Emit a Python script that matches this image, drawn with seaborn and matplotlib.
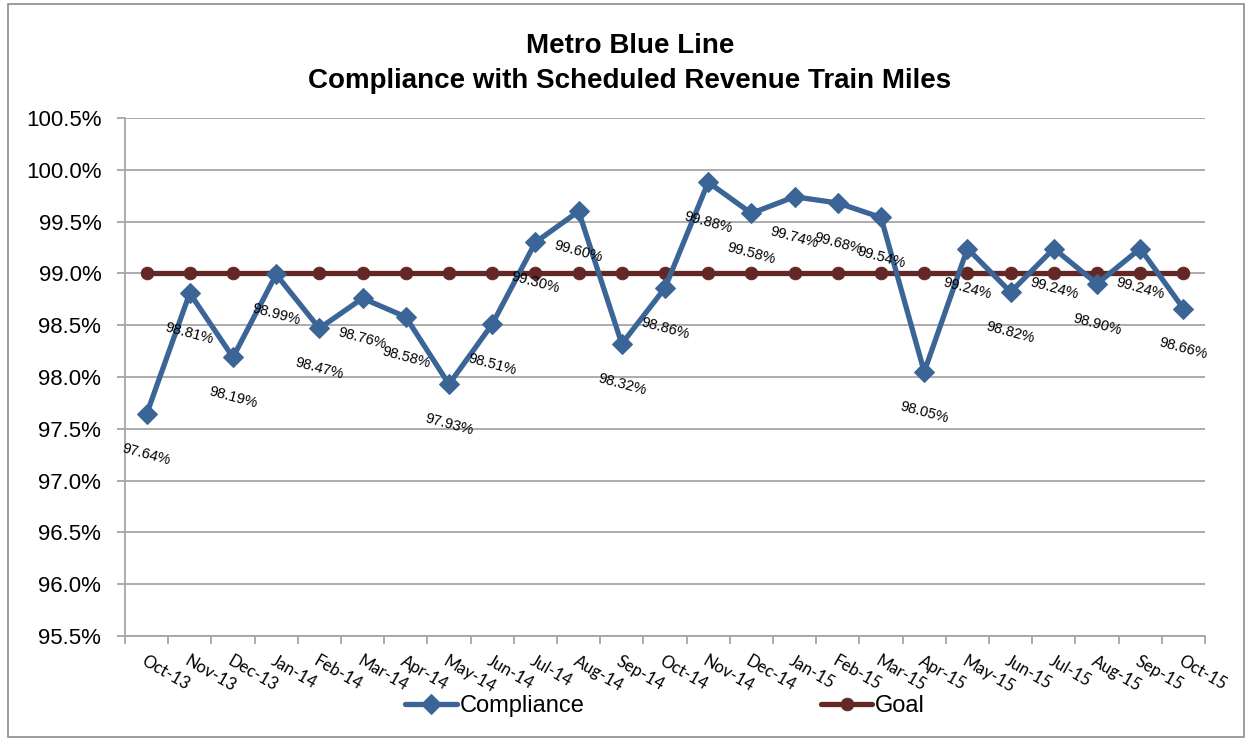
import pandas as pd
import matplotlib
matplotlib.use("Agg")
import matplotlib.pyplot as plt
import seaborn as sns
from matplotlib.patches import Rectangle
from matplotlib.ticker import FuncFormatter, FixedLocator

# Data
months = ["Oct-13", "Nov-13", "Dec-13", "Jan-14", "Feb-14", "Mar-14", "Apr-14",
          "May-14", "Jun-14", "Jul-14", "Aug-14", "Sep-14", "Oct-14", "Nov-14",
          "Dec-14", "Jan-15", "Feb-15", "Mar-15", "Apr-15", "May-15", "Jun-15",
          "Jul-15", "Aug-15", "Sep-15", "Oct-15"]
compliance = [97.64, 98.81, 98.19, 98.99, 98.47, 98.76, 98.58, 97.93, 98.51,
              99.30, 99.60, 98.32, 98.86, 99.88, 99.58, 99.74, 99.68, 99.54,
              98.05, 99.24, 98.82, 99.24, 98.90, 99.24, 98.66]
goal = [99.0] * len(months)

df = pd.DataFrame({"Month": months, "Compliance": compliance, "Goal": goal})

sns.set_theme(style="white")
plt.rcParams["font.family"] = ["Liberation Sans", "DejaVu Sans"]
plt.rcParams["text.color"] = "black"
plt.rcParams["xtick.color"] = "black"
plt.rcParams["ytick.color"] = "black"

blue = "#3B6596"
red = "#632825"
grid = "#A6A6A6"

fig = plt.figure(figsize=(12.52, 7.4), dpi=100)
ax = fig.add_axes([0.0998, 0.1405, 0.8627, 0.70])

sns.lineplot(data=df, x="Month", y="Goal", ax=ax, color=red, lw=3.8,
             marker="o", markersize=9, markeredgecolor=red, label="Goal",
             sort=False, zorder=3)
sns.lineplot(data=df, x="Month", y="Compliance", ax=ax, color=blue, lw=3.8,
             marker="D", markersize=10, markeredgecolor=blue,
             label="Compliance", sort=False, zorder=4)

# data labels
for i, v in enumerate(compliance):
    ax.annotate(f"{v:.2f}%", (i, v), xytext=(0, -29), textcoords="offset points",
                ha="center", va="center", rotation=-15, fontsize=10.5,
                color="black", zorder=5)

ax.set_xlim(-0.5, len(months) - 0.5)
ax.set_ylim(95.5, 100.5)
ax.yaxis.set_major_locator(FixedLocator([95.5 + 0.5 * k for k in range(11)]))
ax.yaxis.set_major_formatter(FuncFormatter(lambda y, _: f"{y:.1f}%"))
ax.grid(axis="y", color=grid, lw=1.3)
ax.set_axisbelow(True)

ax.set_xticks(range(len(months)))
ax.set_xticklabels(months, rotation=-30, ha="left", va="top",
                   rotation_mode="anchor", fontsize=12, family=["Lato", "Liberation Sans"])
ax.set_xticks([k - 0.5 for k in range(len(months) + 1)], minor=True)
ax.tick_params(axis="x", which="major", length=0, pad=12)
ax.tick_params(axis="x", which="minor", length=6, color=grid, width=1.3,
               direction="out", bottom=True)
ax.tick_params(axis="y", labelsize=16, length=6, color=grid, width=1.3,
               direction="out", left=True, pad=11)
ax.set_xlabel("")
ax.set_ylabel("")

for s in ["top", "right"]:
    ax.spines[s].set_visible(False)
for s in ["left", "bottom"]:
    ax.spines[s].set_color(grid)
    ax.spines[s].set_linewidth(1.3)

handles, labels = ax.get_legend_handles_labels()
order = [labels.index("Compliance"), labels.index("Goal")]
ax.legend([handles[k] for k in order], [labels[k] for k in order],
          loc="center", bbox_to_anchor=(0.5, -0.135), ncol=2, frameon=False,
          prop={"size": 17}, columnspacing=10, handlelength=2.2,
          handletextpad=0.1)

fig.text(0.503, 0.914, "Metro Blue Line\nCompliance with Scheduled Revenue Train Miles",
         ha="center", va="center", fontsize=20, fontweight="bold",
         linespacing=1.45)

fig.patches.append(Rectangle((0.006, 0.004), 0.988, 0.99, transform=fig.transFigure,
                             fill=False, edgecolor="#8C8C8C", lw=1.2))

fig.savefig("out.png", dpi=100)
